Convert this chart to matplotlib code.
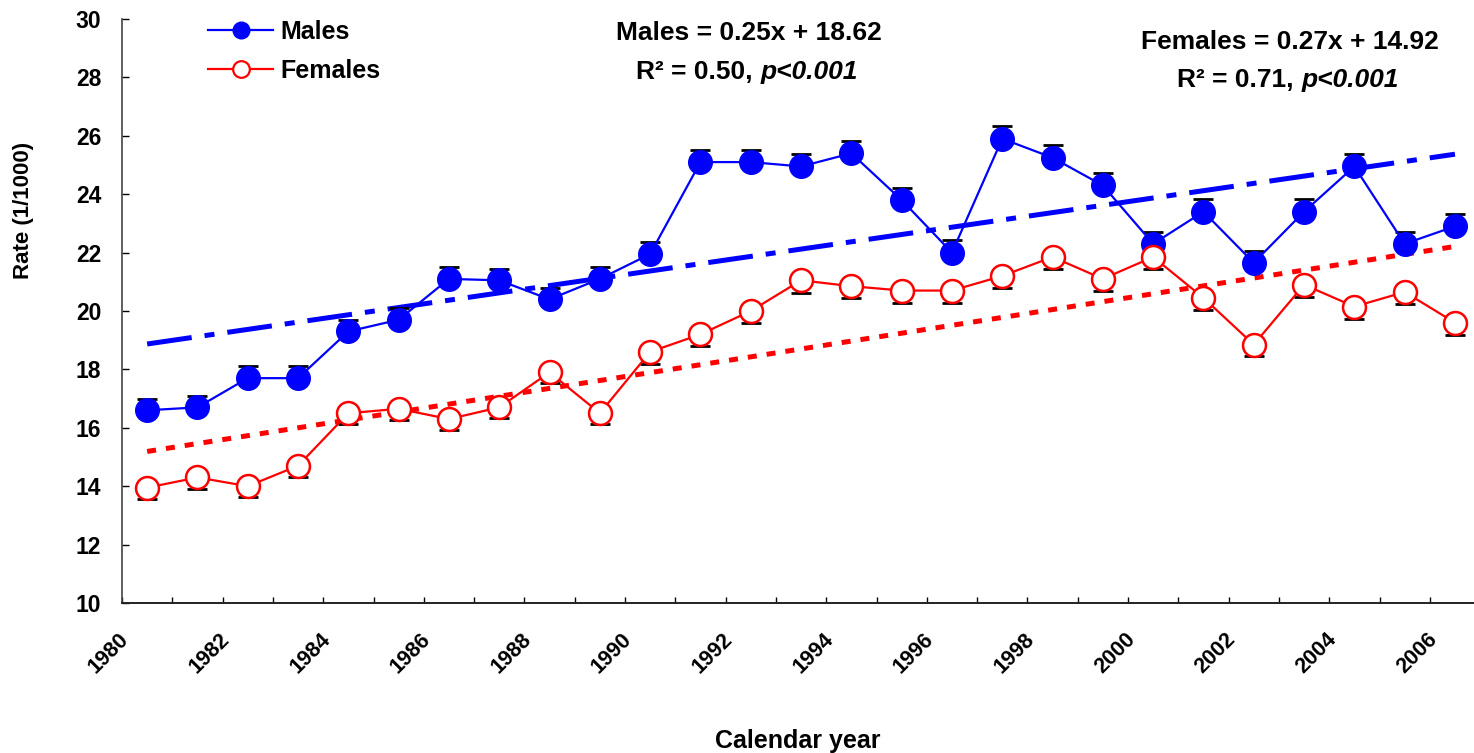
import matplotlib
matplotlib.use("Agg")
import matplotlib.pyplot as plt
import matplotlib.transforms as mtransforms
from matplotlib.lines import Line2D
import numpy as np

plt.rcParams["font.family"] = ["Liberation Sans", "DejaVu Sans"]
plt.rcParams["font.weight"] = "bold"

# data
years = list(range(1980, 2007))
males = [16.6, 16.7, 17.7, 17.7, 19.3, 19.7, 21.1, 21.05, 20.4, 21.1,
         21.95, 25.1, 25.1, 24.95, 25.4, 23.8, 22.0, 25.9, 25.25, 24.3,
         22.3, 23.4, 21.65, 23.4, 24.95, 22.3, 22.9]
females = [13.95, 14.3, 14.0, 14.7, 16.5, 16.65, 16.3, 16.7, 17.9, 16.5,
           18.6, 19.2, 20.0, 21.05, 20.85, 20.7, 20.7, 21.2, 21.85, 21.1,
           21.85, 20.45, 18.85, 20.9, 20.15, 20.65, 19.6]
male_err = [0.38, 0.38, 0.4, 0.4, 0.4, 0.4, 0.4, 0.4, 0.4, 0.4,
            0.4, 0.42, 0.42, 0.42, 0.42, 0.42, 0.42, 0.42, 0.42, 0.42,
            0.42, 0.42, 0.4, 0.42, 0.42, 0.42, 0.42]
female_err = [0.38, 0.38, 0.38, 0.38, 0.38, 0.38, 0.38, 0.38, 0.38, 0.38,
              0.4, 0.4, 0.42, 0.42, 0.42, 0.42, 0.42, 0.42, 0.42, 0.42,
              0.42, 0.42, 0.38, 0.42, 0.42, 0.42, 0.42]
male_fit = (0.25, 18.62)
female_fit = (0.27, 14.92)

BLUE = "#0000FF"
RED = "#FF0000"

W, H = 1474, 753
fig = plt.figure(figsize=(W / 100, H / 100), dpi=100)
ax_l, ax_b, ax_t = 122, 603, 19
ax_w = 27 * 50.3
ax = fig.add_axes([ax_l / W, 1 - ax_b / H, ax_w / W, (ax_b - ax_t) / H])

x = np.arange(len(years)) + 0.5
n = np.arange(1, len(years) + 1)

# trend lines
ax.plot(x, male_fit[0] * n + male_fit[1], color=BLUE, lw=3.6,
        linestyle=(0, (9, 2.6, 2, 2.6)), dash_capstyle="butt", zorder=2)
ax.plot(x, female_fit[0] * n + female_fit[1], color=RED, lw=3.6,
        linestyle=(0, (1.8, 2.0)), dash_capstyle="butt", zorder=2)

# error bars (caps only visible outside the markers)
ax.errorbar(x, males, yerr=[np.zeros(len(x)), male_err], fmt="none", ecolor="black",
            elinewidth=1.2, capsize=7, capthick=2, zorder=3)
ax.errorbar(x, females, yerr=[female_err, np.zeros(len(x))], fmt="none", ecolor="black",
            elinewidth=1.2, capsize=7, capthick=2, zorder=3)

ax.plot(x, males, color=BLUE, lw=1.6, marker="o", ms=17,
        mfc=BLUE, mec=BLUE, zorder=4)
ax.plot(x, females, color=RED, lw=1.6, marker="o", ms=16.5,
        mfc="white", mec=RED, mew=1.8, zorder=4)

ax.set_xlim(0, 27)
ax.set_ylim(10, 30)
ax.set_yticks(range(10, 31, 2))
ax.tick_params(axis="y", direction="in", length=5, width=1, labelsize=16.5, pad=15)
ax.set_xticks(range(0, 27))
ax.set_xticklabels([str(y) if (y - years[0]) % 2 == 0 else "" for y in years])
ax.tick_params(axis="x", direction="in", length=4.5, width=1, labelsize=15.5, pad=0)
for lab in ax.get_xticklabels():
    lab.set_rotation(45)
    lab.set_ha("center")
    lab.set_va("center")
    lab.set_rotation_mode("anchor")
    lab.set_transform(lab.get_transform() +
                      mtransforms.ScaledTranslation(-13 / 100, -50 / 100, fig.dpi_scale_trans))

for s in ["top", "right"]:
    ax.spines[s].set_visible(False)
ax.spines["left"].set_color("#444444")
ax.spines["bottom"].set_color("#222222")
ax.spines["left"].set_linewidth(1.2)
ax.spines["bottom"].set_linewidth(1.4)

ax.set_ylabel("Rate (1/1000)", fontsize=16, fontweight="bold")
ax.yaxis.set_label_coords((34 - ax_l) / ax_w, (ax_b - 210) / (ax_b - ax_t))
fig.text(798 / W, 1 - 741 / H, "Calendar year", ha="center", va="center",
         fontsize=18, fontweight="bold")

handles = [
    Line2D([], [], color=BLUE, lw=1.6, marker="o", ms=12, mfc=BLUE, mec=BLUE),
    Line2D([], [], color=RED, lw=1.6, marker="o", ms=12, mfc="white", mec=RED, mew=1.6),
]
ax.legend(handles, ["Males", "Females"], loc="upper left",
          bbox_to_anchor=((208 - ax_l) / ax_w, (ax_b - 20) / (ax_b - ax_t)),
          frameon=False, fontsize=18, handlelength=2.6, handletextpad=0.3,
          labelspacing=0.6, borderpad=0, borderaxespad=0)


def stat_text(cx, y1, eq, cx2, y2, r2):
    fig.text(cx / W, 1 - y1 / H, eq, ha="center", va="center", fontsize=19,
             fontweight="bold")
    t = fig.text(0, 1 - y2 / H, r2, ha="left", va="center", fontsize=19,
                 fontweight="bold")
    p = ax.annotate("p<0.001", xy=(1, 0), xycoords=t, ha="left", va="bottom",
                    fontsize=19, fontweight="bold", style="italic",
                    annotation_clip=False)
    # center the two-part second line on cx2
    fig.canvas.draw()
    r = fig.canvas.get_renderer()
    w1 = t.get_window_extent(r).width
    w2 = p.get_window_extent(r).width
    t.set_x((cx2 - (w1 + w2) / 2) / W)


stat_text(749, 33, "Males = 0.25x + 18.62", 747, 72, "R\u00b2 = 0.50, ")
stat_text(1290, 42, "Females = 0.27x + 14.92", 1288, 80, "R\u00b2 = 0.71, ")

fig.savefig("out.png", dpi=100)
